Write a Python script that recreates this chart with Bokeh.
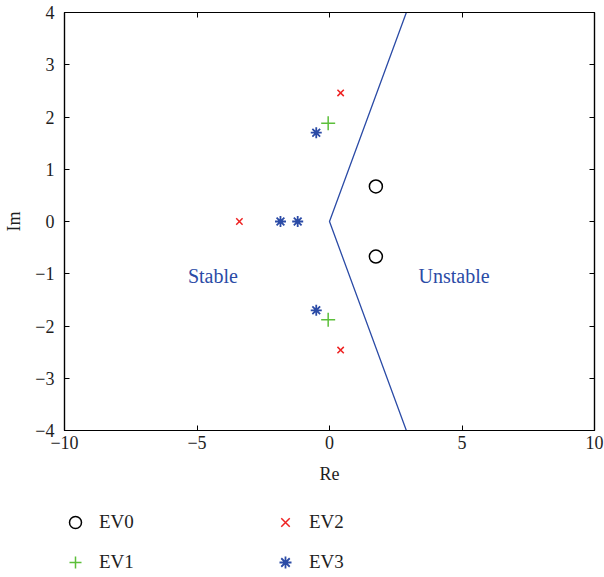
from bokeh.plotting import figure
from bokeh.layouts import column
from bokeh.models import (Range1d, LinearAxis, FixedTicker, Legend, LegendItem, ColumnDataSource)
from bokeh.core.properties import value
from bokeh.embed import file_html
from bokeh.resources import INLINE

# data
ev0_re = [1.75, 1.75]
ev0_im = [0.67, -0.67]
ev1_re = [-0.05, -0.05]
ev1_im = [1.88, -1.88]
ev2_re = [-3.4, 0.42, 0.42]
ev2_im = [0.0, 2.46, -2.46]
ev3_re = [-1.85, -1.2, -0.5, -0.5]
ev3_im = [0.0, 0.0, 1.7, -1.7]
bound_re = [2.9, 0.0, 2.9]
bound_im = [4.0, 0.0, -4.0]
region_labels = ["Stable", "Unstable"]
region_re = [-4.4, 4.7]
region_im = [-1.05, -1.05]
x_ticks = [-10, -5, 0, 5, 10]
y_ticks = [-4, -3, -2, -1, 0, 1, 2, 3, 4]
series_names = ["EV0", "EV1", "EV2", "EV3"]

FONT = "Liberation Serif"
BLUE = "#2b4ba6"
TXT = "#1e1e1e"
STYLES = {
    "EV0": dict(marker="circle", size=13, fill_color=None, line_color="black", line_width=1.5),
    "EV1": dict(marker="cross", size=14, line_color="#5cbf3a", line_width=1.5),
    "EV2": dict(marker="x", size=9, line_color="#ee2222", line_width=1.5),
    "EV3": dict(marker="asterisk", size=11, line_color=BLUE, line_width=1.8),
}

def lab(v):
    return ("\u2212" + str(abs(v))) if v < 0 else str(v)

p = figure(width=604, height=500, output_backend="svg", toolbar_location=None,
           x_range=Range1d(-10, 10), y_range=Range1d(-4, 4),
           min_border_left=64, min_border_right=10, min_border_top=12,
           min_border_bottom=70)
p.grid.visible = False
p.outline_line_color = "black"
p.outline_line_width = 1.2

for ax, ticks in ((p.xaxis[0], x_ticks), (p.yaxis[0], y_ticks)):
    ax.ticker = FixedTicker(ticks=ticks)
    ax.major_label_overrides = {t: lab(t) for t in ticks}
    ax.major_tick_in = 5
    ax.major_tick_out = 0
    ax.minor_tick_line_color = None
    ax.axis_line_width = 1.2
    ax.major_label_text_font = FONT
    ax.major_label_text_font_size = "18px"
    ax.major_label_text_color = TXT
    ax.axis_label_text_font = FONT
    ax.axis_label_text_font_size = "18px"
    ax.axis_label_text_font_style = "normal"
    ax.axis_label_text_color = TXT
p.xaxis.axis_label = "Re"
p.yaxis.axis_label = "Im"
p.xaxis.major_label_standoff = 5
p.xaxis.axis_label_standoff = 12
p.yaxis.major_label_standoff = 10
p.yaxis.axis_label_standoff = 8

for side, ticks in (("above", x_ticks), ("right", y_ticks)):
    ax = LinearAxis(ticker=FixedTicker(ticks=ticks), major_tick_in=5, major_tick_out=0,
                    minor_tick_line_color=None, axis_line_width=1.2,
                    major_label_overrides={t: "" for t in ticks})
    p.add_layout(ax, side)

p.line(bound_re, bound_im, line_color=BLUE, line_width=1.3)

data = {"EV0": (ev0_re, ev0_im), "EV1": (ev1_re, ev1_im),
        "EV2": (ev2_re, ev2_im), "EV3": (ev3_re, ev3_im)}
for name in series_names:
    xs, ys = data[name]
    p.scatter(xs, ys, **STYLES[name])

src = ColumnDataSource(dict(x=region_re, y=region_im, t=region_labels))
p.text("x", "y", text="t", source=src, text_font=value(FONT), text_font_size="20px",
       text_color=BLUE, text_align="center", text_baseline="middle")

# legend strip below the chart (its renderers lie outside its visible range)
q = figure(width=604, height=77, output_backend="svg", toolbar_location=None,
           x_range=Range1d(100, 101), y_range=Range1d(100, 101),
           x_axis_type=None, y_axis_type=None,
           min_border_left=0, min_border_right=0, min_border_top=0, min_border_bottom=0)
q.grid.visible = False
q.outline_line_color = None
proxies = {}
for name in series_names:
    xs, ys = data[name]
    proxies[name] = q.scatter(xs, ys, **STYLES[name])

common = dict(orientation="horizontal", border_line_color=None, background_fill_alpha=0,
              label_text_font=FONT, label_text_font_size="19px", label_text_color=TXT,
              label_width=150, label_height=22, label_standoff=6,
              glyph_width=36, glyph_height=30, spacing=18, padding=0, margin=0)
leg1 = Legend(items=[LegendItem(label="EV0", renderers=[proxies["EV0"]]),
                     LegendItem(label="EV2", renderers=[proxies["EV2"]])],
              location=(-7, 40), **common)
leg2 = Legend(items=[LegendItem(label="EV1", renderers=[proxies["EV1"]]),
                     LegendItem(label="EV3", renderers=[proxies["EV3"]])],
              location=(-7, 0), **common)
q.add_layout(leg1, "center")
q.add_layout(leg2, "center")

layout = column(p, q, spacing=0)
open("out.html", "w").write(file_html(layout, INLINE))
